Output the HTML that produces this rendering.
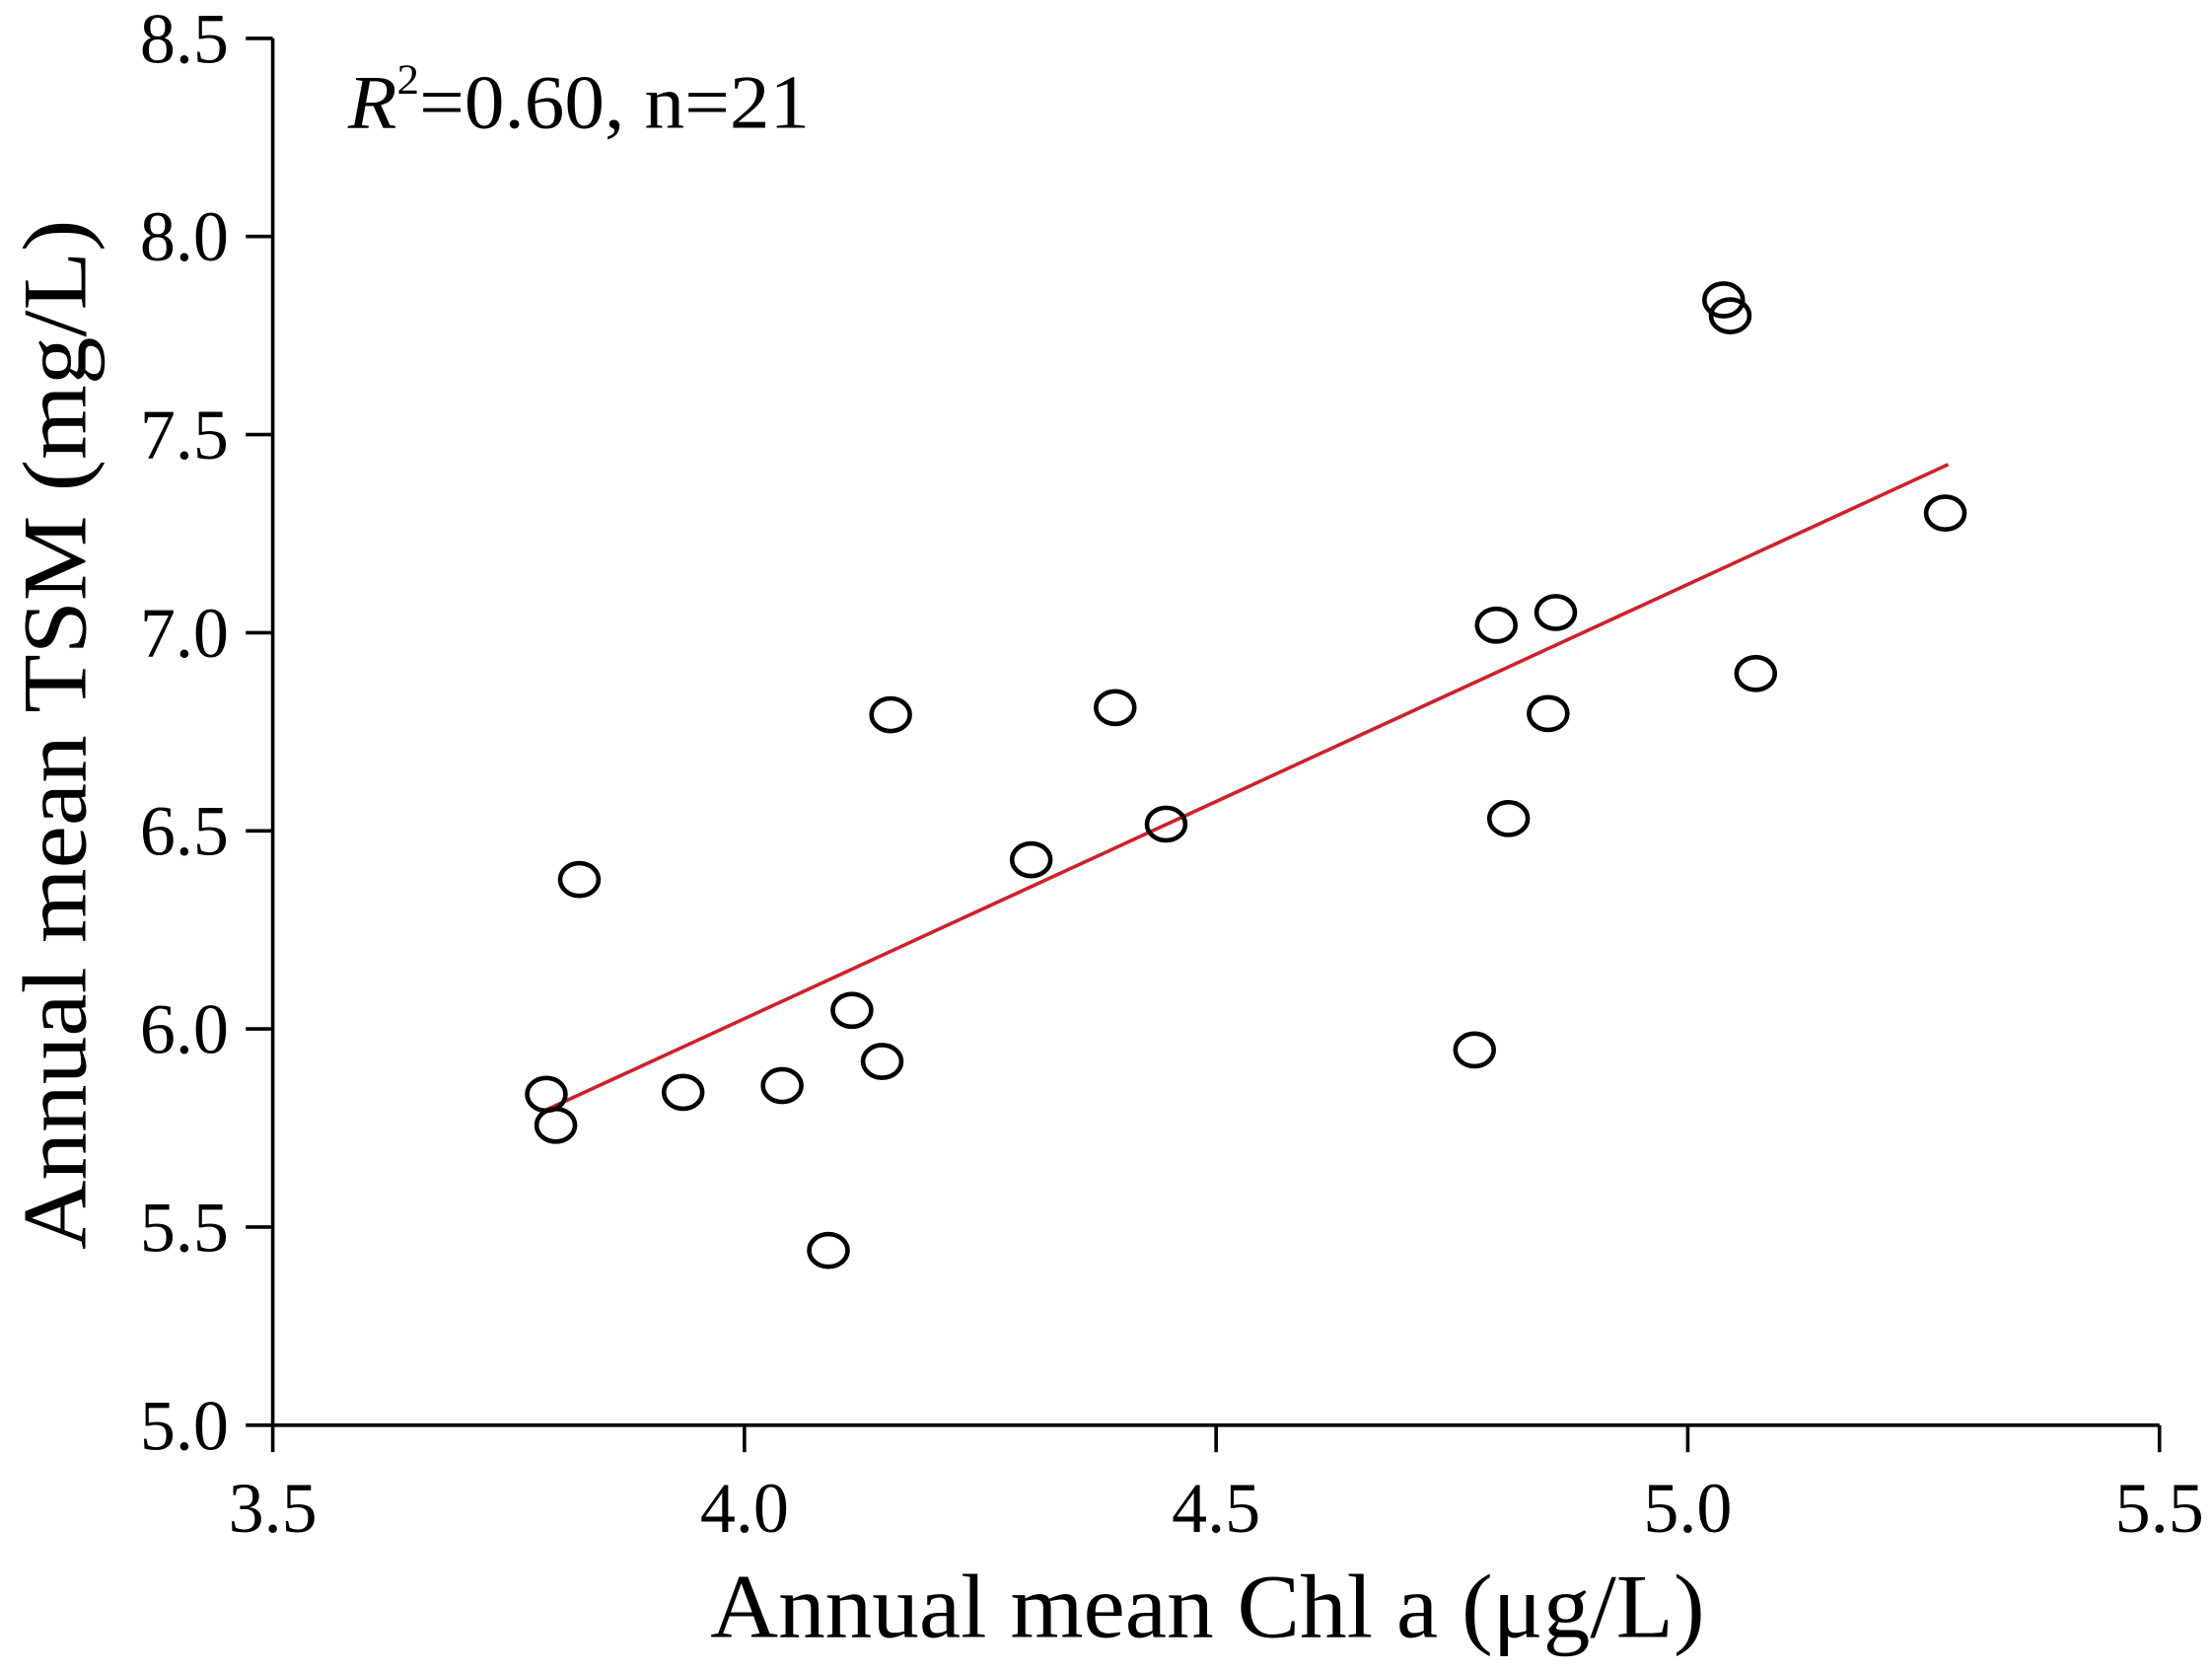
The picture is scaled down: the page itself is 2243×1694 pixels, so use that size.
<!DOCTYPE html>
<html><head><meta charset="utf-8"><style>
html,body{margin:0;padding:0;background:#fff;}
svg{display:block;}
text{font-family:"Liberation Serif",serif;fill:#000;}
</style></head><body>
<svg id="chart" width="2243" height="1694" viewBox="0 0 1557 1176" preserveAspectRatio="none" xmlns="http://www.w3.org/2000/svg">
<g id="axes"></g>
<g id="marks"></g>
<text x="245" y="90" font-size="54" textLength="325" lengthAdjust="spacingAndGlyphs"><tspan font-style="italic">R</tspan><tspan font-size="30" dy="-24">2</tspan><tspan dy="24">=0.60, n=21</tspan></text>
<text x="850" y="1152" font-size="64" text-anchor="middle" textLength="700" lengthAdjust="spacingAndGlyphs">Annual mean Chl a (μg/L)</text>
<text transform="translate(60,517) rotate(-90)" font-size="64" text-anchor="middle" textLength="725" lengthAdjust="spacingAndGlyphs">Annual mean TSM  (mg/L)</text>
</svg>
<script>
const xData=[3.79,3.80,3.825,3.935,4.04,4.089,4.114,4.146,4.155,4.304,4.393,4.447,4.774,4.797,4.81,4.852,4.86,5.038,5.045,5.072,5.273];
const yData=[5.835,5.757,6.377,5.84,5.857,5.441,6.047,5.918,6.793,6.427,6.811,6.517,5.947,7.019,6.531,6.796,7.051,7.84,7.80,6.897,7.302];
const xTicks=[3.5,4.0,4.5,5.0,5.5];
const yTicks=[5.0,5.5,6.0,6.5,7.0,7.5,8.0,8.5];
const fitSlope=1.096, fitIntercept=1.642, fitX=[3.784,5.276];
const NS='http://www.w3.org/2000/svg';
const sx=v=>192+(v-3.5)/2.0*1328;
const sy=v=>1003-(v-5.0)/3.5*976;
function mk(t,a,p){const e=document.createElementNS(NS,t);for(const k in a)e.setAttribute(k,a[k]);p.appendChild(e);return e;}
const ax=document.getElementById('axes'), mg=document.getElementById('marks');
let l=mk('line',{x1:192,y1:sy(8.5),x2:192,y2:1003,stroke:'#000','stroke-width':2.5},ax);


l=mk('line',{x1:192,y1:1003,x2:1520,y2:1003,stroke:'#000','stroke-width':2.5},ax);


xTicks.forEach(v=>{
 const t=mk('line',{x1:sx(v),y1:1003,x2:sx(v),y2:1022,stroke:'#000','stroke-width':2.5},ax);
 
 
 const tx=mk('text',{x:sx(v),y:1078,'font-size':50,'text-anchor':'middle'},ax);
 tx.textContent=v.toFixed(1);
 
 
});
yTicks.forEach(v=>{
 const t=mk('line',{x1:173,y1:sy(v),x2:192,y2:sy(v),stroke:'#000','stroke-width':2.5},ax);
 
 
 const tx=mk('text',{x:161,y:sy(v)+17,'font-size':50,'text-anchor':'end'},ax);
 tx.textContent=v.toFixed(1);
 
 
});
const fl=mk('line',{x1:sx(fitX[0]),y1:sy(fitSlope*fitX[0]+fitIntercept),x2:sx(fitX[1]),y2:sy(fitSlope*fitX[1]+fitIntercept),stroke:'#d0202a','stroke-width':2.5},mg);


xData.forEach((x,i)=>{
 const c=mk('ellipse',{cx:sx(x),cy:sy(yData[i]),rx:13.5,ry:11.5,fill:'none',stroke:'#000','stroke-width':3.2},mg);
 
 
});
</script>
</body></html>
